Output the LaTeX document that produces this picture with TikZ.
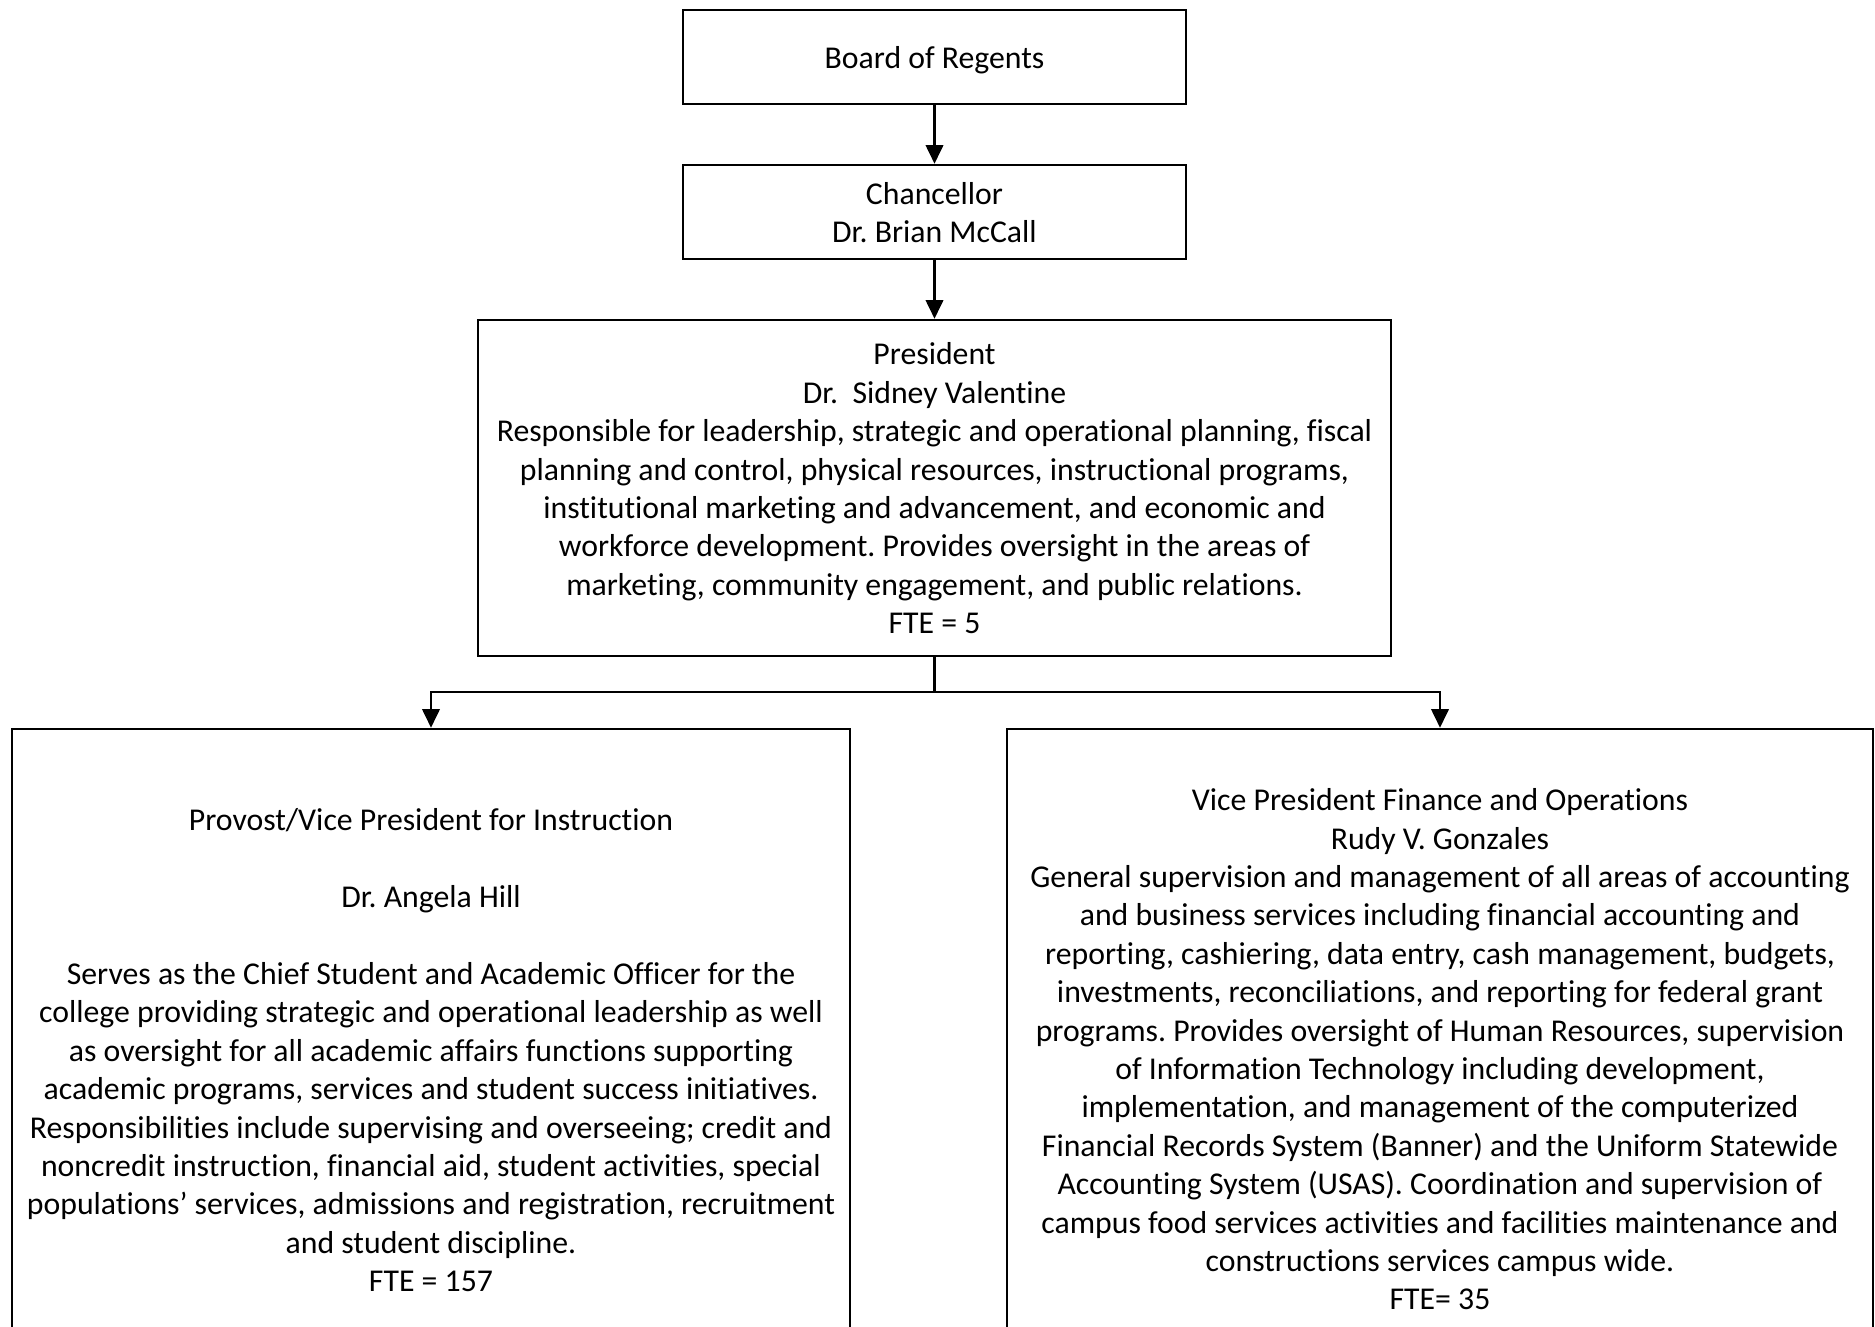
\documentclass[tikz,border=0pt]{standalone}
\usepackage{fontspec}
\setmainfont[Ligatures={NoCommon}]{Carlito}
\usetikzlibrary{arrows.meta}
\newcommand\topstrut{\rule{0pt}{13.6pt}}
\tikzset{
  box/.style={draw, line width=1pt, inner sep=0pt, align=center,
    font=\fontsize{12.7}{15.36}\selectfont\frenchspacing},
  conn/.style={line width=1pt, -{Triangle[width=7pt,length=7.5pt]}},
}
\begin{document}
\begin{tikzpicture}[x=0.4pt,y=-0.4pt]
\useasboundingbox (0,0) rectangle (1875,1327);
\clip (0,0) rectangle (1875,1327);
\fill[white] (0,0) rectangle (1875,1327);
\node[box, minimum width=503*0.4pt, minimum height=94*0.4pt] (board) at (934.5,57)
  {\topstrut Board of Regents\strut};
\node[box, minimum width=503*0.4pt, minimum height=94*0.4pt] (chan) at (934.5,212)
  {\topstrut Chancellor\\Dr. Brian McCall\strut};
\node[box, minimum width=913*0.4pt, minimum height=336*0.4pt] (pres) at (934.5,488)
  {\topstrut President\\
   Dr.~ Sidney Valentine\\
   Responsible for leadership, strategic and operational planning, fiscal\\
   planning and control, physical resources, instructional programs,\\
   institutional marketing and advancement, and economic and\\
   workforce development. Provides oversight in the areas of\\
   marketing, community engagement, and public relations.\\
   FTE = 5\strut};
\node[box, minimum width=838*0.4pt, minimum height=642*0.4pt] (prov) at (431,1050)
  {\topstrut Provost/Vice President for Instruction\\
   ~\\
   Dr. Angela Hill\\
   ~\\
   Serves as the Chief Student and Academic Officer for the\\
   college providing strategic and operational leadership as well\\
   as oversight for all academic affairs functions supporting\\
   academic programs, services and student success initiatives.\\
   Responsibilities include supervising and overseeing; credit and\\
   noncredit instruction, financial aid, student activities, special\\
   populations’ services, admissions and registration, recruitment\\
   and student discipline.\\
   FTE = 157\strut};
\node[box, minimum width=866*0.4pt, minimum height=640*0.4pt] (vp) at (1440,1049)
  {\topstrut Vice President Finance and Operations\\
   Rudy V. Gonzales\\
   General supervision and management of all areas of accounting\\
   and business services including financial accounting and\\
   reporting, cashiering, data entry, cash management, budgets,\\
   investments, reconciliations, and reporting for federal grant\\
   programs. Provides oversight of Human Resources, supervision\\
   of Information Technology including development,\\
   implementation, and management of the computerized\\
   Financial Records System (Banner) and the Uniform Statewide\\
   Accounting System (USAS). Coordination and supervision of\\
   campus food services activities and facilities maintenance and\\
   constructions services campus wide.\\
   FTE= 35\strut};
\coordinate (split) at (934.5,692);
\draw[conn] (board.south) -- (chan.north);
\draw[conn] (chan.south) -- (pres.north);
\draw[line width=1pt] (pres.south) -- (split);
\draw[conn] (split) -| (prov.north);
\draw[conn] (split) -| (vp.north);
\end{tikzpicture}
\end{document}
